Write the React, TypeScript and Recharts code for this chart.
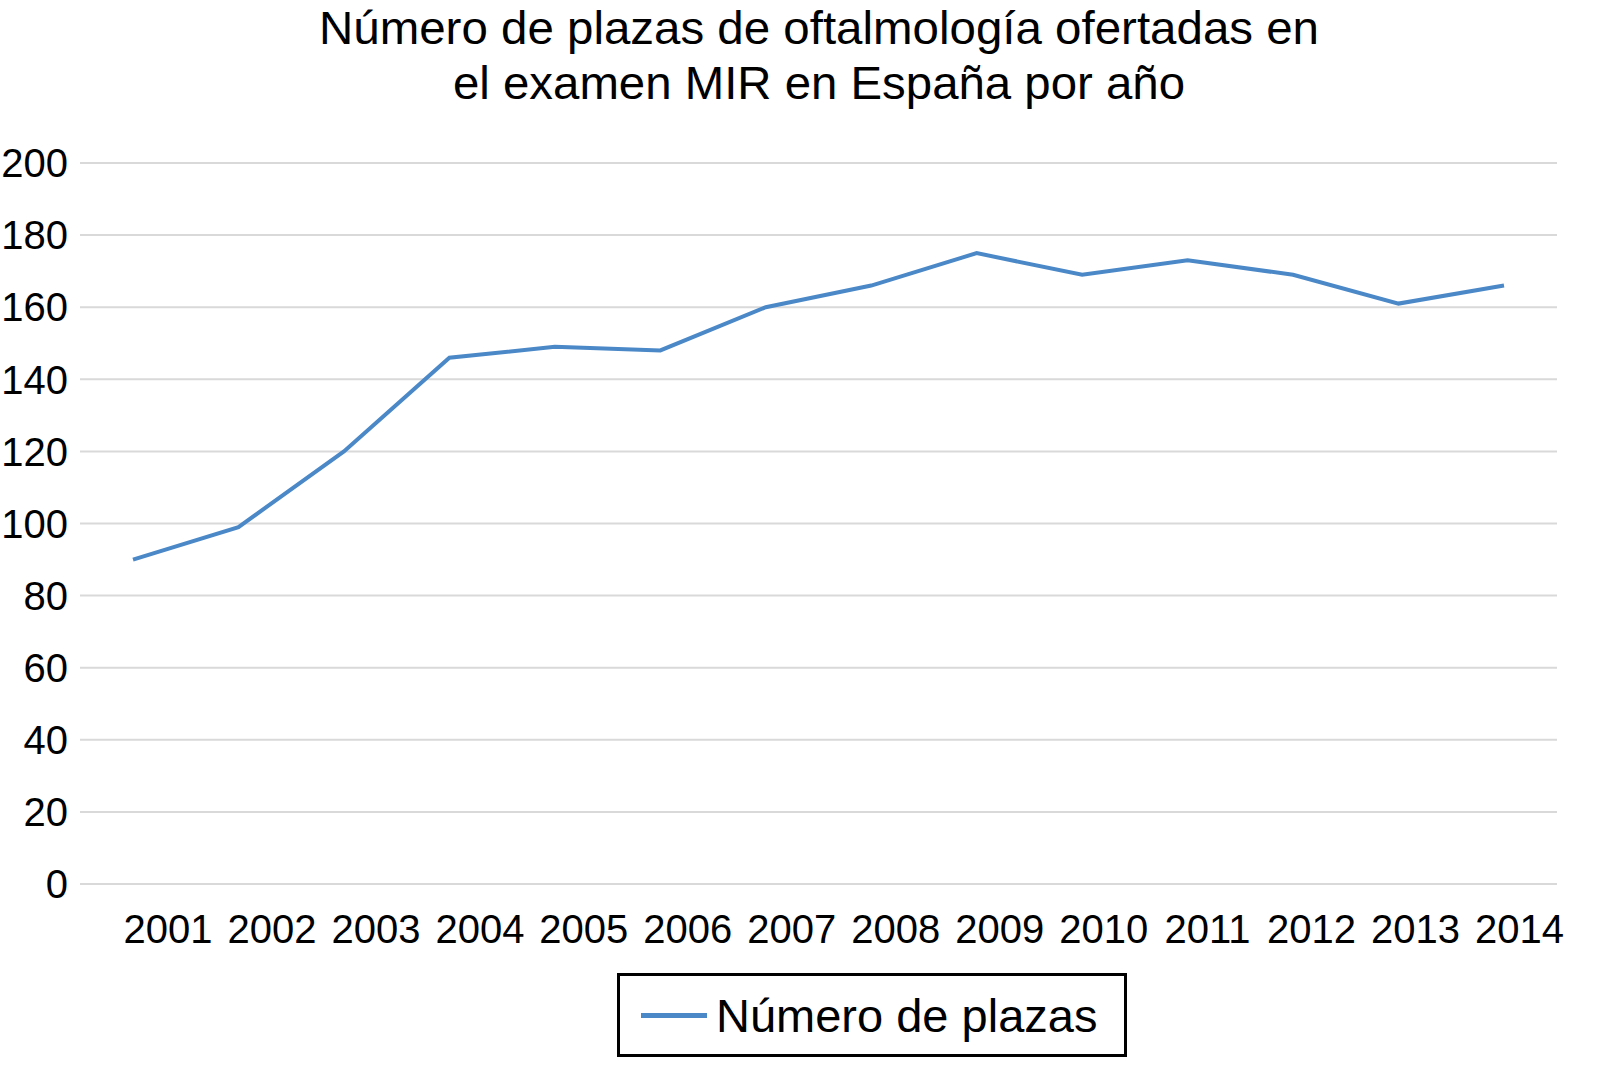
import { LineChart, Line, XAxis, YAxis, CartesianGrid } from 'recharts';

const years = ['2001', '2002', '2003', '2004', '2005', '2006', '2007', '2008', '2009', '2010', '2011', '2012', '2013', '2014'];
const plazas = [90, 99, 120, 146, 149, 148, 160, 166, 175, 169, 173, 169, 161, 166];
const yTicks = [0, 20, 40, 60, 80, 100, 120, 140, 160, 180, 200];

const titleLines = ['Número de plazas de oftalmología ofertadas en', 'el examen MIR en España por año'];
const seriesName = 'Número de plazas';

const data = years.map((year, i) => ({ year, plazas: plazas[i] }));

const FONT = '"Liberation Sans", Arial, Helvetica, sans-serif';
const LINE_COLOR = '#4A88C8';

function YearTick({ x, y, payload, index }: any) {
    // labels in the source sit a bit to the right of their points
    const shift = 35 - 1.5 * index;
    return (
        <text
            x={x + shift}
            y={y + 45}
            dy="0.355em"
            textAnchor="middle"
            fill="#000"
            fontSize={40}
            fontFamily={FONT}
        >
            {payload.value}
        </text>
    );
}

export default function App() {
    return (
        <div style={{ position: 'absolute', left: 0, top: 0, width: 1604, height: 1083, background: '#fff', fontFamily: FONT }}>
            <svg width={1604} height={120} style={{ position: 'absolute', left: 0, top: 0 }}>
                {titleLines.map((t, i) => (
                    <text
                        key={i}
                        x={819}
                        y={27 + i * 55}
                        dy="0.36em"
                        textAnchor="middle"
                        fontSize={47}
                        fontFamily={'"Liberation Sans Narrow", ' + FONT}
                        textLength={i === 0 ? 1000 : 732}
                        lengthAdjust="spacingAndGlyphs"
                        fill="#000"
                    >
                        {t}
                    </text>
                ))}
            </svg>

            <div style={{ position: 'absolute', left: 0, top: 0 }}>
                <LineChart
                    width={1604}
                    height={1083}
                    data={data}
                    margin={{ top: 163, right: 47, left: 0, bottom: 139 }}
                >
                    <CartesianGrid vertical={false} stroke="#d9d9d9" strokeWidth={2} />
                    <XAxis
                        dataKey="year"
                        axisLine={false}
                        tickLine={false}
                        tickSize={0}
                        tickMargin={0}
                        height={60}
                        interval={0}
                        padding={{ left: 53, right: 53 }}
                        tick={<YearTick />}
                    />
                    <YAxis
                        domain={[0, 200]}
                        ticks={yTicks}
                        interval={0}
                        axisLine={false}
                        tickLine={false}
                        tickSize={0}
                        tickMargin={12}
                        width={80}
                        tick={{ fill: '#000', fontSize: 40, fontFamily: FONT }}
                    />
                    <Line
                        type="linear"
                        dataKey="plazas"
                        stroke={LINE_COLOR}
                        strokeWidth={4}
                        dot={false}
                        activeDot={false}
                        isAnimationActive={false}
                    />
                </LineChart>
            </div>

            <div
                style={{
                    position: 'absolute',
                    left: 617,
                    top: 973,
                    width: 510,
                    height: 84,
                    boxSizing: 'border-box',
                    border: '3px solid #000',
                    display: 'flex',
                    alignItems: 'center',
                    paddingLeft: 21,
                }}
            >
                <div style={{ width: 66, height: 5, background: LINE_COLOR, marginRight: 9 }} />
                <span style={{ fontSize: 47, color: '#000', whiteSpace: 'nowrap' }}>{seriesName}</span>
            </div>
        </div>
    );
}
